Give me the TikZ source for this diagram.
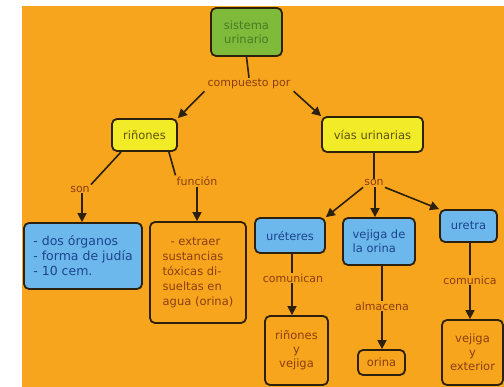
\documentclass[tikz,border=0pt]{standalone}
\usepackage{fontspec}
\setmainfont{DejaVu Sans}
\usetikzlibrary{arrows.meta}
\definecolor{bgor}{RGB}{246,165,28}
\definecolor{gfill}{RGB}{128,186,58}
\definecolor{gtext}{RGB}{70,125,35}
\definecolor{yfill}{RGB}{242,236,40}
\definecolor{ytext}{RGB}{95,80,20}
\definecolor{bfill}{RGB}{108,184,236}
\definecolor{btext}{RGB}{28,68,140}
\definecolor{brtext}{RGB}{140,62,18}
\definecolor{edge}{RGB}{45,32,12}
\tikzset{
  x=1pt,y=1pt,
  box/.style={draw=edge,line width=1.8pt,rounded corners=5pt,inner sep=2pt,font=\fontsize{11.5}{14}\selectfont,align=center},
  greenbox/.style={box,fill=gfill,text=gtext},
  yellowbox/.style={box,fill=yfill,text=ytext},
  bluebox/.style={box,fill=bfill,text=btext},
  orbox/.style={box,fill=bgor,text=brtext},
  lbl/.style={text=brtext,font=\fontsize{11}{13}\selectfont,inner sep=1pt},
  conn/.style={draw=edge,line width=1.6pt},
  arr/.style={conn,-{Triangle[length=9pt,width=9pt]}}
}
\begin{document}
\begin{tikzpicture}
\useasboundingbox (0,0) rectangle (504,-387);
\fill[white] (0,0) rectangle (504,-387);
\fill[bgor] (22,-6) rectangle (504,-387);

% nodes
\node[greenbox,minimum width=71,minimum height=48] (su) at (246.5,-32) {sistema\\urinario};
\node[lbl] (cp) at (249,-84) {compuesto por};
\node[yellowbox,minimum width=65,minimum height=32] (ri) at (144.5,-135) {riñones};
\node[yellowbox,minimum width=101,minimum height=35] (vu) at (372.5,-134.5) {vías urinarias};

\node[lbl] (son1) at (80,-189) {son};
\node[lbl] (fun) at (197,-181) {función};
\node[lbl] (son2) at (374,-183) {son};

\node[bluebox,minimum width=118,minimum height=66,align=left,font=\fontsize{12.5}{15}\selectfont] (dos) at (83,-256)
  {- dos órganos\\- forma de judía\\- 10 cem.};
\node[orbox,minimum width=96,minimum height=101,align=left,font=\fontsize{11.5}{15}\selectfont] (ext) at (198,-272.5)
  {\hspace{8pt}- extraer\\sustancias\\tóxicas di-\\sueltas en\\agua (orina)};

\node[bluebox,minimum width=70,minimum height=35] (ure) at (290,-235.5) {uréteres};
\node[bluebox,minimum width=72,minimum height=47,align=left] (vej) at (379,-241.5) {vejiga de\\la orina};
\node[bluebox,minimum width=57,minimum height=32] (uret) at (468.5,-226) {uretra};

\node[lbl] (com1) at (293,-278) {comunican};
\node[lbl] (alm) at (382,-306) {almacena};
\node[lbl] (com2) at (470,-280) {comunica};

\node[orbox,minimum width=63,minimum height=69] (rv) at (296.5,-350.5) {riñones\\y\\vejiga};
\node[orbox,minimum width=47,minimum height=25] (ori) at (381.5,-362.5) {orina};
\node[orbox,minimum width=61,minimum height=65] (ve) at (472.5,-352.5) {vejiga\\y\\exterior};

% connectors
\draw[conn] (su.south) -- (cp.north);
\draw[arr] (cp.south west) ++(-2,-1) coordinate (a1) (a1) -- (ri.north east);
\draw[arr] (cp.south east) ++(2,-1) coordinate (a2) (a2) -- (vu.north west);

\draw[conn] (ri.south west) ++(10,0) coordinate (r1) (r1) -- (son1.north east);
\draw[arr] (son1.south) ++(2,0) coordinate (s1) (s1) -- (dos.north -| s1);
\draw[conn] (ri.south east) ++(-9,0) coordinate (r2) (r2) -- (fun.north west);
\draw[arr] (fun.south) -- (ext.north -| fun.south);

\draw[conn] (vu.south) ++(1.5,0) coordinate (v1) (v1) -- (son2.north -| v1);
\draw[arr] (son2.south west) -- (ure.north east);
\draw[arr] (son2.south) ++(1,0) coordinate (s2) (s2) -- (vej.north -| s2);
\draw[arr] (son2.south east) -- (uret.north west);

\draw[conn] (ure.south) ++(2,0) coordinate (u1) (u1) -- (com1.north -| u1);
\draw[arr] (com1.south -| u1) -- (rv.north -| u1);
\draw[conn] (vej.south) ++(3,0) coordinate (j1) (j1) -- (alm.north -| j1);
\draw[arr] (alm.south -| j1) -- (ori.north -| j1);
\draw[conn] (uret.south) ++(1.5,0) coordinate (t1) (t1) -- (com2.north -| t1);
\draw[arr] (com2.south -| t1) -- (ve.north -| t1);
\end{tikzpicture}
\end{document}
